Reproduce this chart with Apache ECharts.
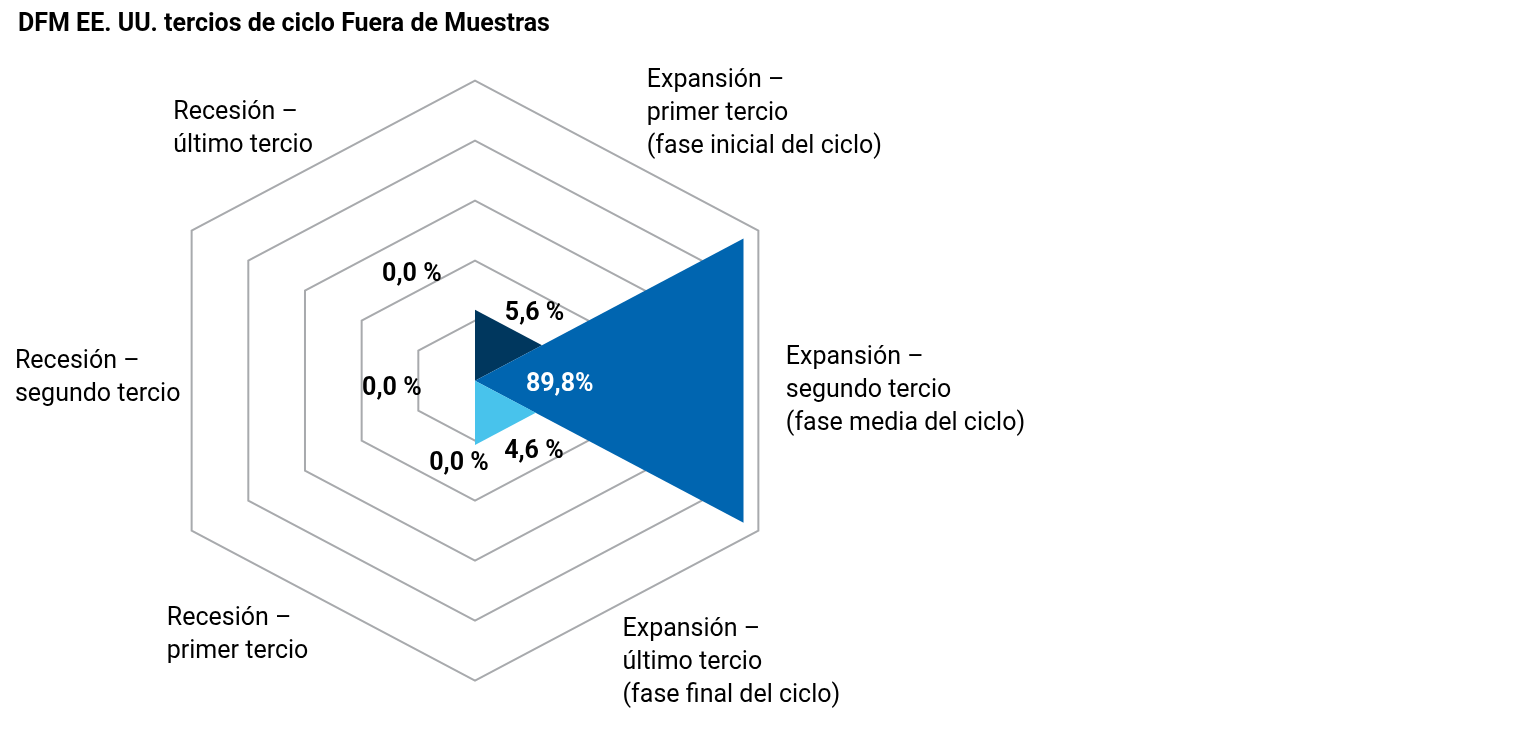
<!DOCTYPE html>
<html lang="es">
<head>
    <meta charset="UTF-8">
    <title>DFM EE. UU. tercios de ciclo</title>
    <style>
        html, body { margin: 0; padding: 0; background: #fff; }
        #main { width: 1532px; height: 738px; }
    </style>
</head>
<body>
    <div id="main"></div>
</body>
<script src="https://cdn.jsdelivr.net/npm/echarts@6/dist/echarts.min.js"></script>
<script>
    var main = echarts.init(document.getElementById('main'))

    // data
    var categories = [
        'Expansión –\nprimer tercio\n(fase inicial del ciclo)',
        'Expansión –\nsegundo tercio\n(fase media del ciclo)',
        'Expansión –\núltimo tercio\n(fase final del ciclo)',
        'Recesión –\nprimer tercio',
        'Recesión –\nsegundo tercio',
        'Recesión –\núltimo tercio'
    ]
    var shares = [5.6, 89.8, 4.6, 0.0, 0.0, 0.0]
    var ringSteps = [1, 2, 3, 4, 5]

    // layout (axis units: hexagon outer radius = 1)
    var sectorAngles = [60, 0, -60, -120, 180, 120]
    var colors = ['#00375e', '#0065b0', '#48c3ec', '#cccccc', '#cccccc', '#cccccc']
    var valueLabelPos = [[0.182, 0.222], [0.259, -0.014], [0.180, -0.238], [-0.049, -0.278], [-0.254, -0.026], [-0.193, 0.352]]
    var namePos = [[0.525, 1.054], [0.950, 0.130], [0.451, -0.775], [-0.942, -0.738], [-1.406, 0.117], [-0.922, 0.947]]
    var FONT = 'Roboto'

    function pt(r, deg) {
        var a = deg * Math.PI / 180
        return [r * Math.cos(a), r * Math.sin(a)]
    }

    option = {
        animation: false,
        title: {
            text: 'DFM EE. UU. tercios de ciclo Fuera de Muestras',
            left: 13,
            top: 7,
            textStyle: { fontFamily: FONT, fontWeight: 'bold', fontSize: 25, color: '#000' }
        },
        grid: { left: 147.8, top: 80.7, width: 654.4, height: 600 },
        xAxis: { type: 'value', min: -1, max: 1, show: false },
        yAxis: { type: 'value', min: -1, max: 1, show: false },
        series: [
            {
                // hexagon grid rings
                type: 'custom',
                silent: true,
                data: ringSteps.map(function (s) { return [s, 0] }),
                renderItem: function (params, api) {
                    var r = api.value(0) / ringSteps.length
                    var pts = []
                    for (var k = 0; k < 6; k++) pts.push(api.coord(pt(r, 90 - k * 60)))
                    return {
                        type: 'polygon',
                        shape: { points: pts },
                        style: { fill: 'none', stroke: '#a8aaad', lineWidth: 2 }
                    }
                }
            },
            {
                // wedges, radius on a square-root scale
                type: 'custom',
                data: shares.map(function (v, i) { return [i, v] }),
                renderItem: function (params, api) {
                    var i = api.value(0)
                    var r = Math.sqrt(api.value(1) / 100)
                    var c = sectorAngles[i]
                    return {
                        type: 'polygon',
                        shape: { points: [api.coord([0, 0]), api.coord(pt(r, c + 30)), api.coord(pt(r, c - 30))] },
                        style: { fill: colors[i] }
                    }
                }
            },
            {
                // value labels
                type: 'custom',
                silent: true,
                data: shares.map(function (v, i) { return [i, v] }),
                renderItem: function (params, api) {
                    var i = api.value(0)
                    var v = api.value(1)
                    var inside = v > 50
                    var p = api.coord(valueLabelPos[i])
                    return {
                        type: 'text',
                        x: p[0], y: p[1],
                        style: {
                            text: v.toFixed(1).replace('.', ',') + (inside ? '%' : ' %'),
                            fill: inside ? '#fff' : '#000',
                            font: 'bold 25px ' + FONT,
                            align: 'center',
                            verticalAlign: 'middle'
                        }
                    }
                }
            },
            {
                // category names
                type: 'custom',
                silent: true,
                data: categories.map(function (c, i) { return [i, 0] }),
                renderItem: function (params, api) {
                    var i = api.value(0)
                    var p = api.coord(namePos[i])
                    return {
                        type: 'text',
                        x: p[0], y: p[1],
                        style: {
                            text: categories[i],
                            fill: '#000',
                            font: '25px ' + FONT,
                            lineHeight: 33,
                            align: 'left',
                            verticalAlign: 'top'
                        }
                    }
                }
            }
        ]
    };
    main.setOption(option)
</script>
</html>
